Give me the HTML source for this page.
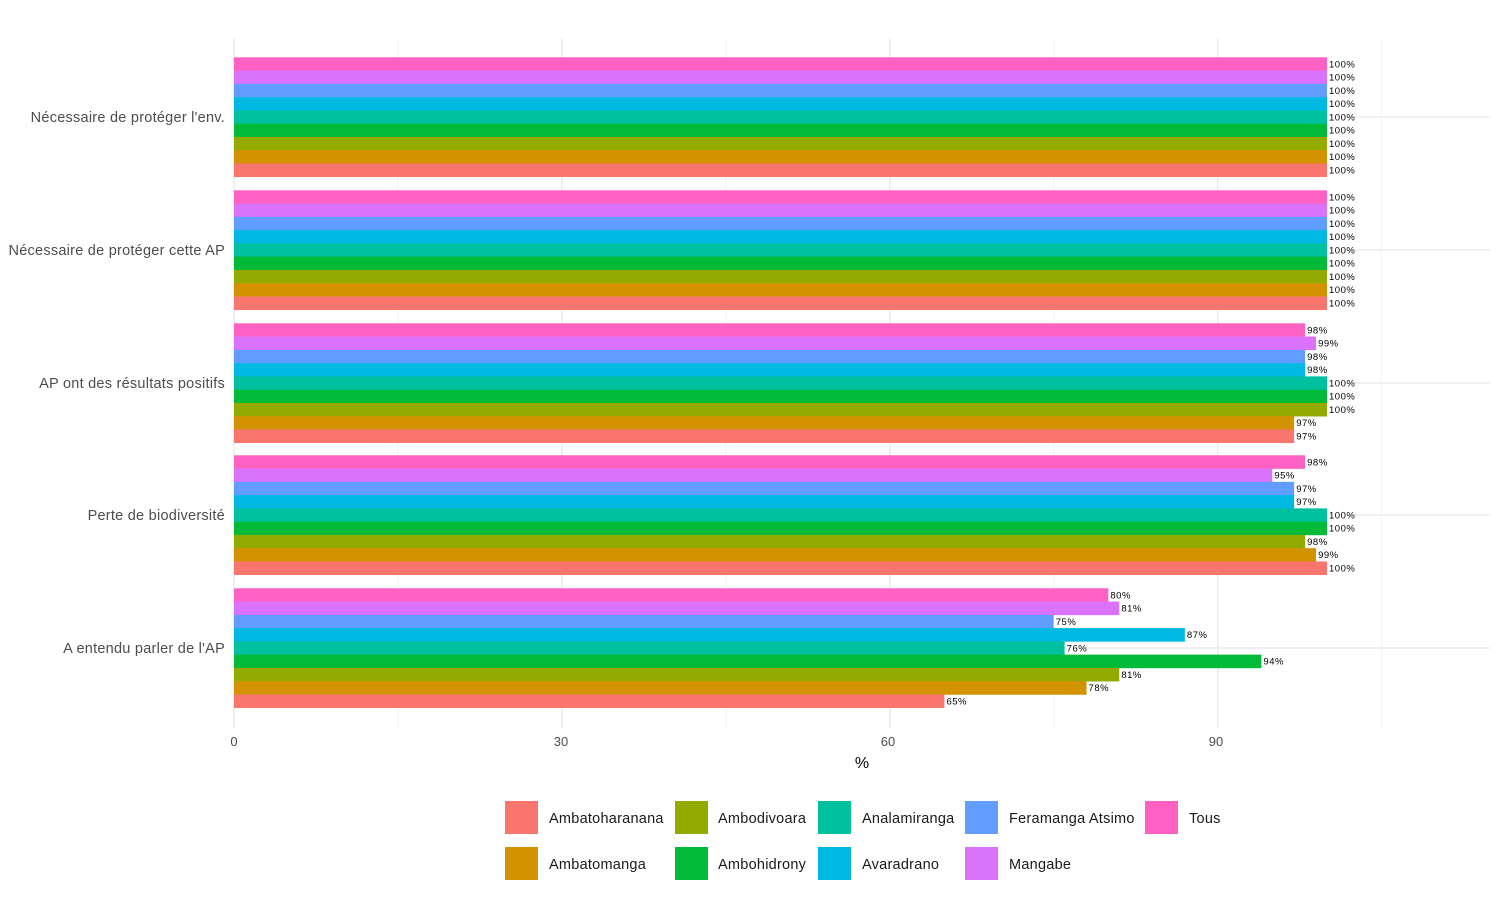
<!DOCTYPE html>
<html><head><meta charset="utf-8"><style>body{margin:0;background:#fff}svg{display:block}</style></head>
<body>
<svg id="s" width="1500" height="900" xmlns="http://www.w3.org/2000/svg" font-family="Liberation Sans, sans-serif">
<rect width="1500" height="900" fill="#fff"/>
<g id="grid"></g><g id="bars"></g><g id="lab"></g>
<g font-size="13" fill="#4d4d4d" text-anchor="middle">
<text x="234" y="746">0</text><text x="561" y="746">30</text><text x="888" y="746">60</text><text x="1216" y="746">90</text>
</g>
<text x="862" y="768" font-size="16" text-anchor="middle" fill="#000">%</text>
<g font-size="14.5" fill="#4d4d4d" text-anchor="end" letter-spacing="0.25">
<text x="225" y="122">Nécessaire de protéger l'env.</text>
<text x="225" y="255">Nécessaire de protéger cette AP</text>
<text x="225" y="388">AP ont des résultats positifs</text>
<text x="225" y="520">Perte de biodiversité</text>
<text x="225" y="653">A entendu parler de l'AP</text>
</g>
<g font-size="14.5" fill="#1a1a1a" letter-spacing="0.25">
<rect x="505" y="801" width="33" height="33" fill="#F8766D"/><text x="549" y="823">Ambatoharanana</text>
<rect x="505" y="847" width="33" height="33" fill="#D39200"/><text x="549" y="869">Ambatomanga</text>
<rect x="675" y="801" width="33" height="33" fill="#93AA00"/><text x="718" y="823">Ambodivoara</text>
<rect x="675" y="847" width="33" height="33" fill="#00BA38"/><text x="718" y="869">Ambohidrony</text>
<rect x="818" y="801" width="33" height="33" fill="#00C19F"/><text x="862" y="823">Analamiranga</text>
<rect x="818" y="847" width="33" height="33" fill="#00B9E3"/><text x="862" y="869">Avaradrano</text>
<rect x="965" y="801" width="33" height="33" fill="#619CFF"/><text x="1009" y="823">Feramanga Atsimo</text>
<rect x="965" y="847" width="33" height="33" fill="#DB72FB"/><text x="1009" y="869">Mangabe</text>
<rect x="1145" y="801" width="33" height="33" fill="#FF61C3"/><text x="1189" y="823">Tous</text>
</g>
</svg>
<script>
var NS="http://www.w3.org/2000/svg";
function el(p,t,a,txt){var e=document.createElementNS(NS,t);for(var k in a)e.setAttribute(k,a[k]);if(txt)e.textContent=txt;document.getElementById(p).appendChild(e);}
var x0=234,sc=10.93;
[15,45,75,105].forEach(function(v){el("grid","line",{x1:x0+v*sc,x2:x0+v*sc,y1:38,y2:728,stroke:"#f3f3f3","stroke-width":1});});
[0,30,60,90].forEach(function(v){el("grid","line",{x1:x0+v*sc,x2:x0+v*sc,y1:38,y2:728,stroke:"#ebebeb","stroke-width":1.6});});
var cy=[117,250,383,515,648];
cy.forEach(function(c){el("grid","line",{x1:234,x2:1490,y1:c,y2:c,stroke:"#ebebeb","stroke-width":1.6});});
var cols=["#FF61C3","#DB72FB","#619CFF","#00B9E3","#00C19F","#00BA38","#93AA00","#D39200","#F8766D"];
var data=[[100,100,100,100,100,100,100,100,100],[100,100,100,100,100,100,100,100,100],[98,99,98,98,100,100,100,97,97],[98,95,97,97,100,100,98,99,100],[80,81,75,87,76,94,81,78,65]];
var bh=13.27;
data.forEach(function(d,g){var top=cy[g]-4.5*bh;d.forEach(function(v,i){var y=top+i*bh,w=v*sc;
el("bars","rect",{x:x0,y:y,width:w,height:bh+0.3,fill:cols[i]});
var t=v+"%",tw=t.length*6+3;
el("lab","rect",{x:x0+w,y:y+1.5,width:tw,height:10,fill:"#fff"});
el("lab","text",{x:x0+w+2,y:y+10,"font-size":"9.5","letter-spacing":"0.5",fill:"#000"},t);});});
</script>
</body></html>
